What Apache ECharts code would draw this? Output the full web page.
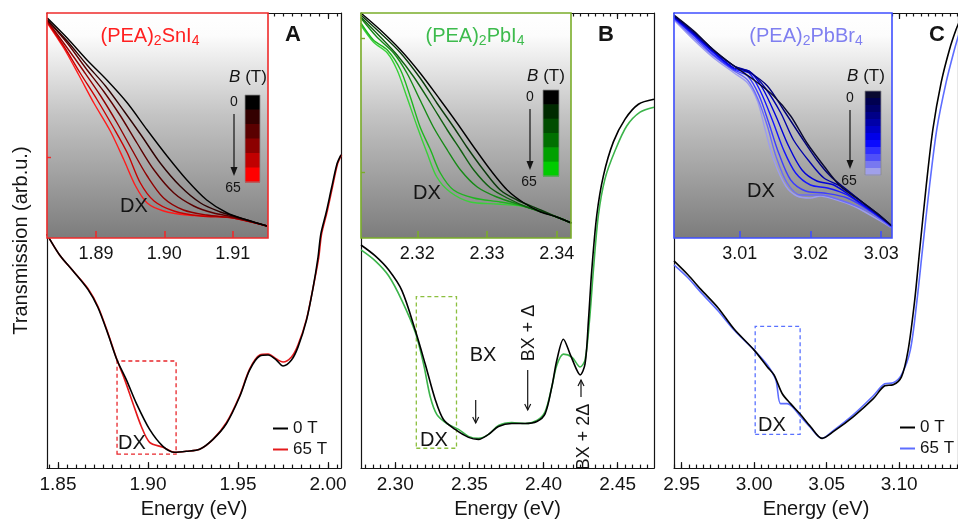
<!DOCTYPE html>
<html lang="en">
<head>
<meta charset="UTF-8">
<title>Magneto-transmission, (PEA)2SnI4 / (PEA)2PbI4 / (PEA)2PbBr4</title>
<script src="https://cdn.jsdelivr.net/npm/echarts@6.0.0/dist/echarts.min.js"></script>
<style>
    html, body { margin: 0; padding: 0; background: #fff; }
    #chart { width: 958px; height: 524px; }
</style>
</head>
<body>
<div id="chart"></div>
<script type="text/javascript">
    'use strict';
    // ---- data: [energy (eV), transmission (arb.u.)] ----
    // A: (PEA)2SnI4
    var snMain0T = [[1.8439,236],[1.8444,234],[1.8509,215],[1.8583,199],[1.8667,180],[1.8722,162],[1.8778,135],[1.8828,109],[1.8880,89],[1.8936,65],[1.9009,39],[1.9083,22],[1.9148,16],[1.9213,17],[1.9287,19],[1.9361,29],[1.9436,45],[1.9509,72],[1.9565,99],[1.9621,113],[1.9667,114],[1.9713,109],[1.9750,103],[1.9797,109],[1.9833,122],[1.9880,149],[1.9917,182],[1.9944,212],[1.9960,236],[1.9990,258],[2.0020,283],[2.0050,307],[2.0072,316]];
    var snMain65T = [[1.8439,236],[1.8444,234],[1.8509,215],[1.8583,199],[1.8667,181],[1.8722,163],[1.8778,136],[1.8828,109],[1.8871,89],[1.8917,65],[1.8963,42],[1.9009,26],[1.9083,21],[1.9148,16],[1.9213,17],[1.9287,19],[1.9361,29],[1.9436,46],[1.9509,73],[1.9565,100],[1.9621,114],[1.9667,115],[1.9713,110],[1.9750,107],[1.9797,112],[1.9833,124],[1.9880,150],[1.9917,182],[1.9948,212],[1.9964,236],[1.9994,258],[2.0024,283],[2.0053,307],[2.0075,316]];
    var snInsetCurves = [
        [[1.8829,220],[1.8858,200],[1.8887,178],[1.8916,158],[1.8946,135],[1.8975,108],[1.9004,82],[1.9033,58],[1.9062,38],[1.9092,25],[1.9121,18],[1.9150,12]],
        [[1.8829,218],[1.8858,197],[1.8887,173],[1.8914,152],[1.8941,127],[1.8967,102],[1.8994,75],[1.9023,52],[1.9053,35],[1.9082,26],[1.9101,22],[1.9121,18],[1.9150,12]],
        [[1.8829,218],[1.8858,195],[1.8885,170],[1.8911,147],[1.8936,122],[1.8960,95],[1.8985,68],[1.9014,45],[1.9043,32],[1.9072,25],[1.9101,21],[1.9150,12]],
        [[1.8829,217],[1.8855,193],[1.8882,167],[1.8907,142],[1.8931,115],[1.8953,88],[1.8975,62],[1.8999,40],[1.9028,28],[1.9062,23],[1.9101,20],[1.9150,12]],
        [[1.8829,216],[1.8853,192],[1.8877,165],[1.8902,138],[1.8926,110],[1.8946,85],[1.8965,55],[1.8985,37],[1.9014,27],[1.9053,22],[1.9101,20],[1.9150,12]],
        [[1.8829,215],[1.8853,190],[1.8875,163],[1.8897,135],[1.8921,107],[1.8941,78],[1.8958,52],[1.8975,35],[1.8999,27],[1.9033,23],[1.9072,22],[1.9101,20],[1.9150,12]]
    ];
    // B: (PEA)2PbI4
    var pbiMain0T = [[2.2769,225],[2.2865,214],[2.2955,200],[2.3045,179],[2.3135,139],[2.3202,105],[2.3270,69],[2.3325,49],[2.3404,39],[2.3494,31],[2.3561,29],[2.3629,34],[2.3696,42],[2.3786,45],[2.3876,45],[2.3955,47],[2.4011,55],[2.4056,82],[2.4090,109],[2.4134,130],[2.4179,115],[2.4224,99],[2.4247,94],[2.4280,105],[2.4303,149],[2.4325,199],[2.4359,255],[2.4404,295],[2.4471,329],[2.4550,352],[2.4640,367],[2.4745,372]];
    var pbiMain65T = [[2.2769,220],[2.2865,209],[2.2955,194],[2.3045,169],[2.3135,137],[2.3191,105],[2.3236,72],[2.3281,54],[2.3348,45],[2.3427,39],[2.3494,32],[2.3561,30],[2.3629,34],[2.3696,43],[2.3786,46],[2.3876,45],[2.3955,48],[2.4011,57],[2.4056,82],[2.4090,104],[2.4134,115],[2.4191,112],[2.4247,102],[2.4280,109],[2.4310,149],[2.4336,199],[2.4370,255],[2.4415,292],[2.4482,320],[2.4561,345],[2.4651,359],[2.4745,364]];
    var pbiInsetCurves = [
        [[2.3119,225],[2.3147,208],[2.3176,188],[2.3204,165],[2.3233,138],[2.3257,115],[2.3281,91],[2.3305,68],[2.3329,48],[2.3353,35],[2.3377,26],[2.3400,21],[2.3421,15]],
        [[2.3119,223],[2.3147,205],[2.3176,185],[2.3204,160],[2.3228,135],[2.3252,111],[2.3271,91],[2.3295,68],[2.3319,48],[2.3343,38],[2.3377,28],[2.3400,21],[2.3421,15]],
        [[2.3119,221],[2.3147,201],[2.3171,183],[2.3195,161],[2.3219,135],[2.3243,108],[2.3262,88],[2.3281,68],[2.3305,50],[2.3329,40],[2.3357,31],[2.3400,21],[2.3421,15]],
        [[2.3119,220],[2.3142,201],[2.3166,185],[2.3185,165],[2.3204,138],[2.3223,111],[2.3243,88],[2.3262,68],[2.3286,51],[2.3314,41],[2.3348,33],[2.3400,21],[2.3421,15]],
        [[2.3119,215],[2.3137,198],[2.3157,188],[2.3176,168],[2.3190,141],[2.3204,111],[2.3219,88],[2.3233,65],[2.3252,48],[2.3281,40],[2.3319,36],[2.3357,31],[2.3400,21],[2.3421,15]],
        [[2.3119,213],[2.3137,196],[2.3157,185],[2.3171,168],[2.3185,141],[2.3200,111],[2.3214,85],[2.3228,61],[2.3247,46],[2.3276,36],[2.3314,34],[2.3357,31],[2.3400,21],[2.3421,15]]
    ];
    // C: (PEA)2PbBr4
    var pbbrMain0T = [[2.9447,209],[2.9543,195],[2.9634,180],[2.9749,162],[2.9863,140],[3.0000,119],[3.0091,102],[3.0137,94],[3.0194,75],[3.0251,65],[3.0320,54],[3.0388,42],[3.0468,30],[3.0548,37],[3.0685,52],[3.0822,70],[3.0901,83],[3.0959,84],[3.1016,92],[3.1062,119],[3.1107,169],[3.1141,219],[3.1187,285],[3.1233,342],[3.1290,389],[3.1347,422],[3.1392,442],[3.1420,452]];
    var pbbrMain65T = [[2.9447,205],[2.9543,192],[2.9634,177],[2.9749,159],[2.9863,139],[3.0000,119],[3.0091,104],[3.0149,89],[3.0182,65],[3.0228,65],[3.0263,62],[3.0320,52],[3.0388,41],[3.0468,30],[3.0548,38],[3.0685,54],[3.0822,73],[3.0901,85],[3.0959,86],[3.1016,94],[3.1077,119],[3.1123,169],[3.1160,219],[3.1210,285],[3.1260,342],[3.1324,389],[3.1381,422],[3.1415,439]];
    var pbbrInsetCurves = [
        [[3.0007,223],[3.0035,207],[3.0063,188],[3.0092,172],[3.0120,158],[3.0148,142],[3.0172,122],[3.0195,95],[3.0219,72],[3.0242,52],[3.0271,37],[3.0299,22],[3.0315,12]],
        [[3.0007,222],[3.0035,206],[3.0063,188],[3.0092,172],[3.0115,165],[3.0139,152],[3.0162,128],[3.0186,102],[3.0209,78],[3.0228,62],[3.0252,48],[3.0275,35],[3.0299,22],[3.0315,12]],
        [[3.0007,222],[3.0035,205],[3.0063,187],[3.0092,172],[3.0115,166],[3.0136,150],[3.0158,125],[3.0176,98],[3.0200,75],[3.0219,60],[3.0242,52],[3.0271,37],[3.0299,21],[3.0315,12]],
        [[3.0007,221],[3.0035,204],[3.0063,186],[3.0092,170],[3.0113,167],[3.0132,150],[3.0151,122],[3.0169,92],[3.0188,68],[3.0209,57],[3.0233,53],[3.0261,40],[3.0299,21],[3.0315,12]],
        [[3.0007,220],[3.0035,203],[3.0063,185],[3.0092,169],[3.0113,165],[3.0129,147],[3.0146,118],[3.0162,88],[3.0179,65],[3.0200,53],[3.0224,50],[3.0252,43],[3.0289,25],[3.0315,12]],
        [[3.0007,220],[3.0035,202],[3.0063,183],[3.0092,168],[3.0111,162],[3.0127,143],[3.0141,115],[3.0155,85],[3.0172,58],[3.0193,47],[3.0219,45],[3.0252,40],[3.0289,25],[3.0315,11]],
        [[3.0007,219],[3.0035,200],[3.0063,182],[3.0092,167],[3.0111,158],[3.0125,140],[3.0139,112],[3.0151,82],[3.0167,55],[3.0186,43],[3.0214,43],[3.0242,38],[3.0280,27],[3.0315,10]],
        [[3.0007,218],[3.0035,198],[3.0063,180],[3.0092,165],[3.0111,155],[3.0125,137],[3.0136,108],[3.0148,78],[3.0165,52],[3.0181,42],[3.0200,40],[3.0214,42],[3.0233,39],[3.0261,32],[3.0299,17],[3.0315,10]]
    ];
    var snTicks = [1.85, 1.90, 1.95, 2.00];
    var pbiTicks = [2.30, 2.35, 2.40, 2.45];
    var pbbrTicks = [2.95, 3.00, 3.05, 3.10];
    var snInsetTicks = [1.89, 1.90, 1.91];
    var pbiInsetTicks = [2.32, 2.33, 2.34];
    var pbbrInsetTicks = [3.01, 3.02, 3.03];
    var fieldLabels = ['0', '65'];

    var FONT = '"Liberation Sans", Arial, Helvetica, sans-serif';
    var INK = '#141414';
    var TOP = 13, MAIN_H = 459, INSET_H = 225;

    var panels = [
        {left: 47, width: 294, min: 1.8439, max: 2.0072, ticks: snTicks, d0: snMain0T, d65: snMain65T,
            names: ['0 T', '65 T'], c65: '#e41a1c', box: [1.8828, 14, 1.9156, 108], boxColor: '#e8262b',
            inset: {left: 47, width: 221, min: 1.88285, max: 1.91516, ticks: snInsetTicks, yTicks: [81], curves: snInsetCurves,
                border: '#ee2b2b', colors: ['#000000', '#2e0000', '#5c0000', '#900000', '#c80000', '#ff1a1a']}},
        {left: 361, width: 293, min: 2.2769, max: 2.4745, ticks: pbiTicks, d0: pbiMain0T, d65: pbiMain65T,
            names: ['PbI 0 T', 'PbI 65 T'], c65: '#3cb44b', box: [2.3142, 20, 2.3413, 173], boxColor: '#8cbf3f',
            inset: {left: 361, width: 210, min: 2.31192, max: 2.34205, ticks: pbiInsetTicks, yTicks: [200, 66], curves: pbiInsetCurves,
                border: '#7aad2a', colors: ['#000000', '#0a3a0a', '#106010', '#168a16', '#1fb51f', '#3ad03a']}},
        {left: 674, width: 286, min: 2.9447, max: 3.1406, ticks: pbbrTicks, d0: pbbrMain0T, d65: pbbrMain65T,
            names: ['0 T ', '65 T '], c65: '#5d6dff', box: [3.0007, 34, 3.0317, 143], boxColor: '#5a72ff',
            inset: {left: 674, width: 218, min: 3.00069, max: 3.03153, ticks: pbbrInsetTicks, yTicks: [], curves: pbbrInsetCurves,
                border: '#3f4fff', colors: ['#0a0a30', '#00007a', '#0000aa', '#0000d8', '#1414ff', '#3c3cff', '#6a6af8', '#9c9cf0']}}
    ];

    function fmt2(v) { return v.toFixed(2); }
    function minorList(lo, hi, step) {
        var out = [];
        for (var k = Math.ceil(lo / step - 1e-6); k * step <= hi + 1e-9; k++) out.push(+(k * step).toFixed(4));
        return out;
    }

    var grid = [], xAxis = [], yAxis = [], series = [];
    var lineStyleAxis = {color: INK, width: 1.2};

    panels.forEach(function (p, i) {
        grid.push({left: p.left, top: TOP, width: p.width, height: MAIN_H, show: false});
        var minors = minorList(p.min, p.max, 0.005);
        ['bottom', 'top'].forEach(function (pos) {
            xAxis.push({
                gridIndex: i, type: 'value', min: p.min, max: p.max, position: pos,
                axisLine: {show: true, onZero: false, lineStyle: lineStyleAxis},
                axisTick: {show: true, inside: true, length: 6, customValues: p.ticks, lineStyle: lineStyleAxis},
                axisLabel: {show: pos === 'bottom', customValues: p.ticks, formatter: fmt2, fontSize: 19, color: INK, fontFamily: FONT, margin: 7},
                splitLine: {show: false},
                name: pos === 'bottom' ? 'Energy (eV)' : '', nameLocation: 'middle', nameGap: 30,
                nameTextStyle: {fontSize: 20, color: INK, fontFamily: FONT}
            });
            xAxis.push({
                gridIndex: i, type: 'value', min: p.min, max: p.max, position: pos,
                axisLine: {show: false, onZero: false},
                axisTick: {show: true, inside: true, length: 3.5, customValues: minors, lineStyle: lineStyleAxis},
                axisLabel: {show: false}, splitLine: {show: false}
            });
        });
        ['left', 'right'].forEach(function (pos) {
            yAxis.push({
                gridIndex: i, type: 'value', min: 0, max: MAIN_H, position: pos,
                axisLine: {show: true, onZero: false, lineStyle: lineStyleAxis},
                axisTick: {show: false}, axisLabel: {show: false}, splitLine: {show: false},
                name: (i === 0 && pos === 'left') ? 'Transmission (arb.u.)' : '',
                nameLocation: 'middle', nameGap: 16, nameRotate: 90,
                nameTextStyle: {fontSize: 20, color: INK, fontFamily: FONT}
            });
        });
        series.push({
            name: p.names[0], type: 'line', xAxisIndex: 4 * i, yAxisIndex: 2 * i, data: p.d0,
            symbol: 'none', smooth: 0.3, z: 3,
            lineStyle: {color: '#000', width: 1.6}, itemStyle: {color: '#000'}
        });
        series.push({
            name: p.names[1], type: 'line', xAxisIndex: 4 * i, yAxisIndex: 2 * i, data: p.d65,
            symbol: 'none', smooth: 0.3, z: 2,
            lineStyle: {color: p.c65, width: 1.6}, itemStyle: {color: p.c65},
            markArea: {
                silent: true,
                itemStyle: {color: 'rgba(0,0,0,0)', borderColor: p.boxColor, borderWidth: 1.3, borderType: [4, 3]},
                data: [[{coord: [p.box[0], p.box[1]]}, {coord: [p.box[2], p.box[3]]}]]
            }
        });
    });

    // insets
    panels.forEach(function (p, i) {
        var ins = p.inset, g = 3 + i;
        grid.push({left: ins.left, top: TOP, width: ins.width, height: INSET_H, show: true,
            borderColor: ins.border, borderWidth: 1.6, backgroundColor: 'rgba(0,0,0,0)', z: 30});
        xAxis.push({
            gridIndex: g, type: 'value', min: ins.min, max: ins.max, position: 'bottom', z: 31,
            axisLine: {show: false, onZero: false},
            axisTick: {show: true, inside: true, length: 7, customValues: ins.ticks, lineStyle: {color: ins.border, width: 1.6}},
            axisLabel: {show: true, customValues: ins.ticks, formatter: fmt2, fontSize: 18, color: INK, fontFamily: FONT, margin: 7},
            splitLine: {show: false}
        });
        yAxis.push({
            gridIndex: g, type: 'value', min: 0, max: INSET_H, z: 31,
            axisLine: {show: false, onZero: false},
            axisTick: {show: ins.yTicks.length > 0, inside: true, length: 4, customValues: ins.yTicks, lineStyle: {color: ins.border, width: 1.4}},
            axisLabel: {show: false}, splitLine: {show: false}
        });
        // high field drawn first, 0 T ends up on top
        for (var k = ins.curves.length - 1; k >= 0; k--) {
            series.push({
                name: 'inset' + i + '_' + k, type: 'line', xAxisIndex: 12 + i, yAxisIndex: 6 + i,
                data: ins.curves[k], symbol: 'none', smooth: 0.3, z: 20 + (ins.curves.length - k),
                lineStyle: {color: ins.colors[k], width: 1.4}, itemStyle: {color: ins.colors[k]}
            });
        }
    });

    // ---- annotations ----
    var graphic = [];
    function txt(x, y, s, size, extra, rot) {
        var st = {text: s, fontSize: size, fontFamily: FONT, fill: INK, align: 'center', verticalAlign: 'middle'};
        if (extra) for (var key in extra) st[key] = extra[key];
        var el = {type: 'text', x: x, y: y, z: 40, silent: true, style: st};
        if (rot) el.rotation = rot;
        return el;
    }
    function arrowV(x, y0, y1, filled) {
        var dir = y1 > y0 ? 1 : -1;
        var hl = filled ? 9 : 6, hw = filled ? 3.5 : 3;
        graphic.push({type: 'line', z: 40, silent: true,
            shape: {x1: x, y1: y0, x2: x, y2: filled ? y1 - dir * hl * 0.6 : y1}, style: {stroke: INK, lineWidth: 1.2}});
        if (filled) {
            graphic.push({type: 'polygon', z: 40, silent: true,
                shape: {points: [[x - hw, y1 - dir * hl], [x + hw, y1 - dir * hl], [x, y1]]}, style: {fill: INK}});
        } else {
            graphic.push({type: 'polyline', z: 40, silent: true,
                shape: {points: [[x - hw, y1 - dir * hl], [x, y1], [x + hw, y1 - dir * hl]]}, style: {stroke: INK, lineWidth: 1.2, fill: null}});
        }
    }
    function formula(x, y, parts, color) {
        var s = '';
        parts.forEach(function (t, k) { s += (k % 2 === 0 ? '{m|' : '{s|') + t + '}'; });
        graphic.push({type: 'text', x: x, y: y, z: 40, silent: true, style: {
            text: s, align: 'center', verticalAlign: 'middle',
            rich: {
                m: {fontSize: 20, fontFamily: FONT, fill: color, lineHeight: 24, verticalAlign: 'middle'},
                s: {fontSize: 14, fontFamily: FONT, fill: color, lineHeight: 8, verticalAlign: 'bottom'}
            }
        }});
    }
    function colorBar(bx, by, w, h, colors, lab) {
        var n = colors.length;
        colors.forEach(function (c, k) {
            graphic.push({type: 'rect', z: 40, silent: true,
                shape: {x: bx, y: by + k * h / n, width: w, height: h / n + 0.6}, style: {fill: c}});
        });
        graphic.push({type: 'rect', z: 41, silent: true, shape: {x: bx, y: by, width: w, height: h},
            style: {fill: null, stroke: '#8a8a8a', lineWidth: 0.8}});
        graphic.push({type: 'text', x: lab.bx, y: lab.by, z: 40, silent: true, style: {
            text: '{i|B}{n| (T)}', align: 'center', verticalAlign: 'middle',
            rich: {i: {fontSize: 17, fontStyle: 'italic', fontFamily: FONT, fill: INK}, n: {fontSize: 17, fontFamily: FONT, fill: INK}}
        }});
        graphic.push(txt(lab.ax, by + 7, fieldLabels[0], 14));
        arrowV(lab.ax, by + 19, by + h - 6, true);
        graphic.push(txt(lab.ax - 1, by + h + 6, fieldLabels[1], 14));
    }

    panels.forEach(function (p) {
        var ins = p.inset;
        graphic.push({type: 'rect', z: 10, silent: true,
            shape: {x: ins.left, y: TOP, width: ins.width, height: INSET_H},
            style: {fill: {type: 'linear', x: 0, y: 0, x2: 0, y2: 1, colorStops: [
                {offset: 0, color: '#ffffff'}, {offset: 0.1, color: '#fcfcfc'},
                {offset: 0.45, color: '#c4c4c4'}, {offset: 1, color: '#7c7c7c'}]}}});
    });

    formula(150, 36, ['(PEA)', '2', 'SnI', '4'], '#ff2020');
    formula(475, 36, ['(PEA)', '2', 'PbI', '4'], '#3dbb4d');
    formula(806, 36, ['(PEA)', '2', 'PbBr', '4'], '#7f7ff0');
    graphic.push(txt(293, 35, 'A', 22, {fontWeight: 'bold'}));
    graphic.push(txt(606, 35, 'B', 22, {fontWeight: 'bold'}));
    graphic.push(txt(937, 35, 'C', 22, {fontWeight: 'bold'}));

    colorBar(245, 95, 15, 87, ['#000000', '#330000', '#5a0000', '#8c0000', '#c00000', '#ff0000'], {bx: 248, by: 77, ax: 234});
    colorBar(543, 90, 16, 86, ['#000000', '#002a00', '#004d00', '#007000', '#00a000', '#00cc00'], {bx: 546, by: 76, ax: 530});
    colorBar(865, 91, 16, 84, ['#0a0a30', '#000050', '#00006a', '#000088', '#0000a8', '#0000c8', '#0000e8', '#0a0aff', '#3030ff', '#5050f8', '#7878f0', '#a0a0ea'], {bx: 866, by: 76, ax: 850});

    graphic.push(txt(134, 206, 'DX', 20));
    graphic.push(txt(427, 193, 'DX', 20));
    graphic.push(txt(761, 191, 'DX', 20));
    graphic.push(txt(132, 443, 'DX', 20));
    graphic.push(txt(434, 440, 'DX', 20));
    graphic.push(txt(772, 425, 'DX', 20));

    graphic.push(txt(483, 355, 'BX', 20));
    arrowV(475.7, 400, 423, false);
    graphic.push(txt(529, 333, 'BX + \u0394', 18, null, Math.PI / 2));
    arrowV(527.7, 370, 410, false);
    graphic.push(txt(584, 437, 'BX + 2\u0394', 18, null, Math.PI / 2));
    arrowV(581, 397, 380, false);

    var legendCommon = {orient: 'vertical', icon: 'rect', itemWidth: 15, itemHeight: 2, itemGap: 4, padding: 0,
        selectedMode: false, textStyle: {fontSize: 17, color: INK, fontFamily: FONT}};
    var legends = [
        Object.assign({left: 273, top: 420, data: ['0 T', '65 T']}, legendCommon),
        Object.assign({left: 900, top: 419, data: ['0 T ', '65 T ']}, legendCommon)
    ];

    var myChart = echarts.init(document.getElementById('chart'), null, {renderer: 'canvas'});
    myChart.setOption({
        animation: false,
        backgroundColor: '#ffffff',
        textStyle: {fontFamily: FONT},
        grid: grid,
        xAxis: xAxis,
        yAxis: yAxis,
        legend: legends,
        graphic: graphic,
        series: series
    });
</script>
</body>
</html>
